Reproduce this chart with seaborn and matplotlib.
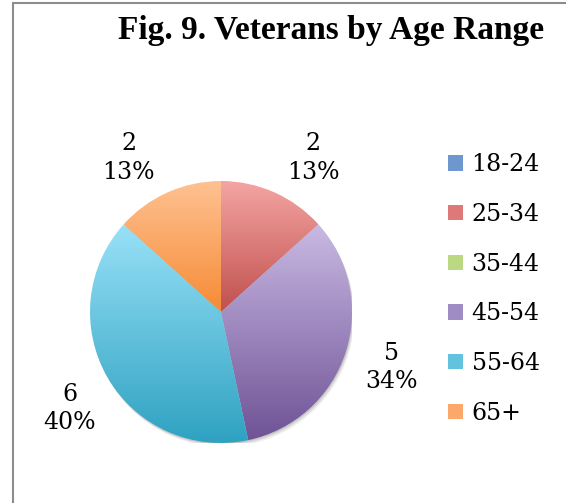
"""
Fig. 9 - Veterans by Age Range (pie with Office-style gradient slices).
"""

import numpy as np
import matplotlib
matplotlib.use("Agg")
import matplotlib.pyplot as plt
import seaborn as sns
from matplotlib.colors import LinearSegmentedColormap
from matplotlib.patches import Circle, Rectangle

# data
age_ranges = ["18-24", "25-34", "35-44", "45-54", "55-64", "65+"]
veterans = [0, 2, 0, 5, 6, 2]
pct_labels = ["0%", "13%", "0%", "34%", "40%", "13%"]

# slice gradients, top colour -> bottom colour
top_colors = ["#a6c3ea", "#f4a5a3", "#d8f1aa", "#c9b9e3", "#98e1f8", "#ffc192"]
bottom_colors = ["#3b6db0", "#c0504d", "#9bbb59", "#6f5396", "#2fa2c1", "#f68b35"]
legend_colors = ["#6e97cf", "#dd7a77", "#bbd882", "#a08cc4", "#63c3de", "#fba86a"]

SERIF = "DejaVu Serif"

sns.set_style("white")
plt.rcParams["font.family"] = [SERIF]
plt.rcParams["text.color"] = "black"

fig = plt.figure(figsize=(5.66, 5.03), dpi=100)

# chart frame (cropped on the right and bottom)
fig.patches.append(Rectangle(
    (13 / 566, -0.1), 1.2, 0.1 + 1 - 3 / 503,
    transform=fig.transFigure, fill=False,
    edgecolor="#8c8c8c", linewidth=1.5
))

ax = fig.add_axes([90 / 566, 60 / 503, 262 / 566, 262 / 503])
ax.set_xlim(-1, 1)
ax.set_ylim(-1, 1)
ax.set_aspect("equal")
ax.axis("off")

# soft shadow under the pie
for off, a in [(0.03, 0.06), (0.02, 0.08), (0.01, 0.1)]:
    ax.add_patch(Circle((off * 0.6, -off), 1.0, color="black",
                        alpha=a, linewidth=0, zorder=0))

wedges, _ = ax.pie(
    veterans,
    startangle=90,
    counterclock=False,
    radius=1.0,
    colors=bottom_colors,
    wedgeprops=dict(linewidth=0),
)

grad = np.linspace(0, 1, 256).reshape(-1, 1)
for w, c0, c1, v in zip(wedges, top_colors, bottom_colors, veterans):
    if v == 0:
        w.set_visible(False)
        continue
    w.set_facecolor("none")
    bb = w.get_path().get_extents()
    cmap = LinearSegmentedColormap.from_list("g", [c0, c1])
    im = ax.imshow(grad, cmap=cmap, aspect="auto",
                   extent=[bb.x0, bb.x1, bb.y0, bb.y1],
                   origin="upper", zorder=1)
    im.set_clip_path(w)

ax.set_xlim(-1, 1)
ax.set_ylim(-1, 1)

# data labels (value + percent), nudged like the original
label_nudge = [0, -7, 0, 0, 2.5, 7]
for w, v, p, dn in zip(wedges, veterans, pct_labels, label_nudge):
    if v == 0:
        continue
    ang = np.deg2rad((w.theta1 + w.theta2) / 2 + dn)
    r = 1.37
    ax.text(r * np.cos(ang), r * np.sin(ang), f"{v}\n{p}",
            ha="center", va="center", fontsize=17, family=SERIF,
            linespacing=1.3, clip_on=False)

handles = [Rectangle((0, 0), 1, 1, facecolor=c, edgecolor="none")
           for c in legend_colors]
fig.legend(
    handles, age_ranges,
    loc="upper left",
    bbox_to_anchor=(427 / 566, 1 - 132 / 503),
    frameon=False,
    prop={"family": SERIF, "size": 17},
    handlelength=0.64,
    handleheight=0.64,
    handletextpad=0.35,
    labelspacing=1.13,
)

fig.text(331 / 566, 1 - 31 / 503, "Fig. 9. Veterans by Age Range",
         ha="center", va="center", fontsize=24, fontweight="bold",
         family="Liberation Serif", color="black")

fig.savefig("out.png", dpi=100)
plt.close(fig)
